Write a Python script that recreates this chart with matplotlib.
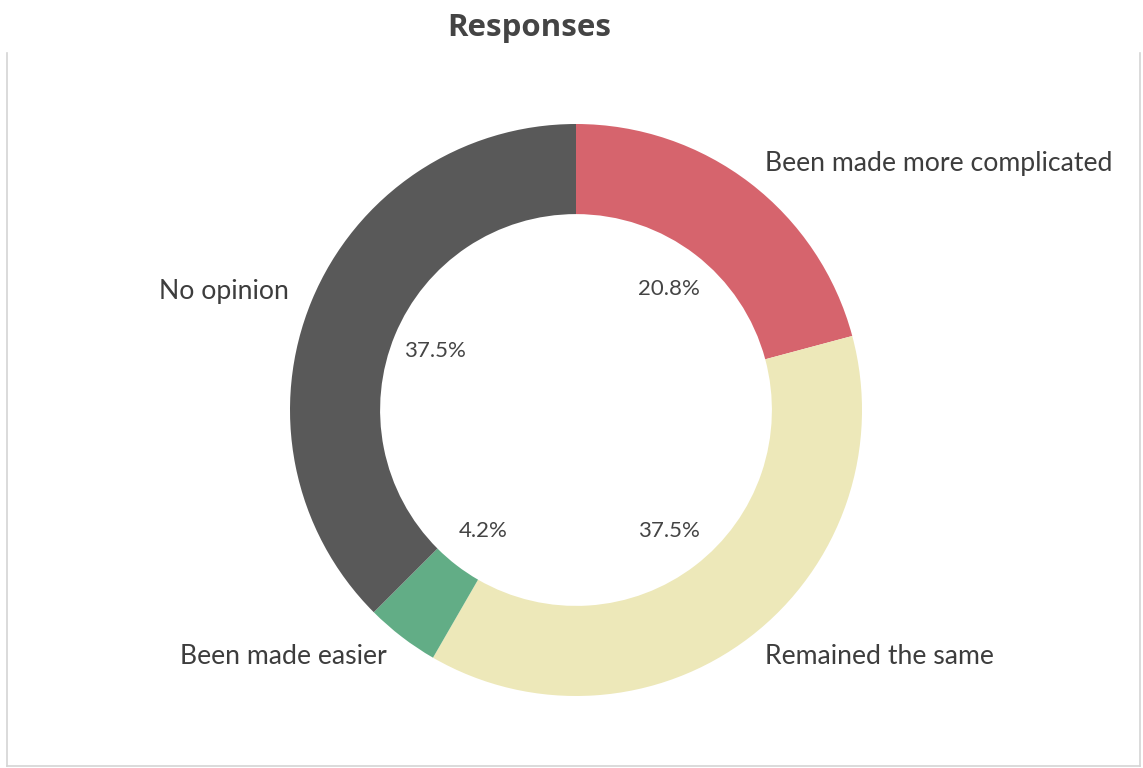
import matplotlib
matplotlib.use("Agg")
import matplotlib.pyplot as plt
from matplotlib.lines import Line2D

# Survey answers, in clockwise order starting at twelve o'clock
categories = ["Been made more complicated", "Remained the same",
              "Been made easier", "No opinion"]
counts = [5, 9, 1, 9]
colors = ["#d6646d", "#ede8b9", "#62ad86", "#595959"]

W, H, DPI = 1143, 768, 100
fig = plt.figure(figsize=(W / DPI, H / DPI), dpi=DPI)
fig.patch.set_facecolor("white")

# Donut geometry in pixels
cx, cy, R = 576, 410, 286
ax = fig.add_axes([0, 0, 1, 1])
ax.pie(
    counts,
    labels=categories,
    colors=colors,
    startangle=90,
    counterclock=False,
    autopct="%.1f%%",
    pctdistance=0.535,
    labeldistance=1.085,
    radius=1.0,
    wedgeprops=dict(width=0.315, linewidth=0),
    textprops=dict(color="#3d3d3d", family="Lato", fontsize=19.2),
)
for t in ax.texts:
    if t.get_text().endswith("%"):
        t.set_fontsize(16)
        t.set_color("#444444")

ax.set_xlim(-cx / R, (W - cx) / R)
ax.set_ylim(-(H - cy) / R, cy / R)
ax.set_aspect("auto")
ax.axis("off")

fig.text(529 / W, 1 - 28 / H, "Responses", ha="center", va="center",
         fontsize=22.5, fontweight="bold", family="Open Sans", color="#444444")

# Light frame around the plotting area (no top edge)
def px(x, y):
    return x / W, 1 - y / H

frame = "#d4d4d4"
for (x0, y0), (x1, y1) in [((7, 53), (7, 766)), ((7, 766), (1140, 766)),
                           ((1140, 53), (1140, 766))]:
    a, b = px(x0, y0), px(x1, y1)
    fig.add_artist(Line2D([a[0], b[0]], [a[1], b[1]], color=frame, lw=1.2))

fig.savefig("out.png", dpi=DPI)
